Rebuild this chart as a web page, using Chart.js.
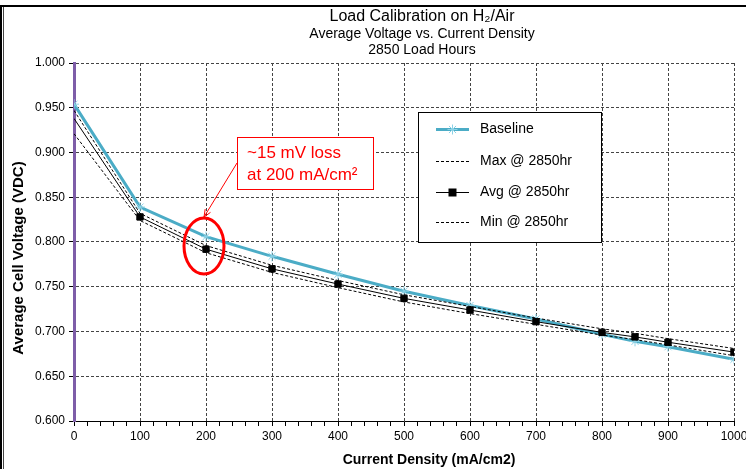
<!DOCTYPE html>
<html><head><meta charset="utf-8">
<script src="https://cdn.jsdelivr.net/npm/chart.js@4/dist/chart.umd.min.js"></script>
<style>html,body{margin:0;padding:0;background:#fff;}#wrap{position:relative;width:746px;height:469px;}</style>
</head><body><div id="wrap"><canvas id="c" width="746" height="469"></canvas></div>
<script>
const currentDensity = [0, 100, 200, 300, 400, 500, 600, 700, 800, 850, 900, 1000];
const baseline = [0.954, 0.839, 0.806, 0.784, 0.764, 0.745, 0.729, 0.714, 0.697, 0.689, 0.683, 0.669];
const max2850  = [0.947, 0.832, 0.796, 0.774, 0.757, 0.741, 0.728, 0.715, 0.703, 0.698, 0.692, 0.681];
const avg2850  = [0.938, 0.828, 0.792, 0.770, 0.753, 0.737, 0.724, 0.711, 0.699, 0.694, 0.688, 0.677];
const min2850  = [0.921, 0.824, 0.788, 0.766, 0.749, 0.733, 0.720, 0.708, 0.696, 0.691, 0.685, 0.673];
const seriesNames = ['Baseline', 'Max @ 2850hr', 'Avg @ 2850hr', 'Min @ 2850hr'];
const titleLines = ['Load Calibration on H\u2082/Air', 'Average Voltage vs. Current Density', '2850 Load Hours'];
const xTitle = 'Current Density (mA/cm2)';
const yTitle = 'Average Cell Voltage (VDC)';
const noteLines = ['~15 mV loss', 'at 200 mA/cm\u00B2'];
const noteAt = {x: 200, y: 0.7955};

const FONT = "'Liberation Sans', Arial, sans-serif";
const pts = arr => currentDensity.map((x, i) => ({x, y: arr[i]}));

const deco = {
  id: 'deco',
  afterDatasetsDraw(chart) {
    const ctx = chart.ctx, xs = chart.scales.x, ys = chart.scales.y;
    ctx.save();
    // ellipse
    const cx = xs.getPixelForValue(noteAt.x), cy = ys.getPixelForValue(noteAt.y);
    ctx.strokeStyle = '#FF0000'; ctx.lineWidth = 3;
    ctx.beginPath(); ctx.ellipse(cx - 2, cy, 20, 28, 0, 0, Math.PI * 2); ctx.stroke();
    // arrow
    ctx.lineWidth = 1;
    const ax0 = 237, ay0 = 163, ax1 = cx - 2, ay1 = cy - 29;
    ctx.beginPath(); ctx.moveTo(ax0, ay0); ctx.lineTo(ax1, ay1); ctx.stroke();
    const ang = Math.atan2(ay1 - ay0, ax1 - ax0);
    ctx.beginPath();
    ctx.moveTo(ax1 - 8 * Math.cos(ang - 0.4), ay1 - 8 * Math.sin(ang - 0.4));
    ctx.lineTo(ax1, ay1);
    ctx.lineTo(ax1 - 8 * Math.cos(ang + 0.4), ay1 - 8 * Math.sin(ang + 0.4));
    ctx.stroke();
    // note box
    ctx.fillStyle = '#fff'; ctx.fillRect(237, 137, 136, 52);
    ctx.strokeStyle = '#FF0000'; ctx.lineWidth = 1; ctx.strokeRect(237.5, 137.5, 136, 52);
    ctx.fillStyle = '#FF0000'; ctx.font = '17px ' + FONT; ctx.textBaseline = 'middle'; ctx.textAlign = 'left';
    ctx.fillText(noteLines[0], 247, 153);
    ctx.fillText(noteLines[1], 247, 175);
    // legend
    const lx = 418, ly = 112, lw = 183, lh = 130;
    ctx.fillStyle = '#fff'; ctx.fillRect(lx, ly, lw, lh);
    ctx.strokeStyle = '#000'; ctx.lineWidth = 1; ctx.strokeRect(lx + 0.5, ly + 0.5, lw, lh);
    const rows = [129, 161, 192, 222];
    chart.data.datasets.forEach((ds, i) => {
      const y = rows[i] + 0.5;
      ctx.save();
      ctx.strokeStyle = ds.borderColor; ctx.lineWidth = ds.borderWidth;
      ctx.setLineDash(ds.borderDash || []);
      ctx.beginPath(); ctx.moveTo(436, y); ctx.lineTo(469, y); ctx.stroke();
      ctx.restore();
      if (ds.legendMarker) {
        ctx.save();
        ctx.fillStyle = ds.pointBackgroundColor; ctx.strokeStyle = ds.pointBorderColor; ctx.lineWidth = 1;
        ctx.beginPath();
        if (ds.pointStyle === 'rect') { ctx.fillRect(452.5 - 4, y - 4, 8, 8); }
        else {
          const r = 5;
          for (let k = 0; k < 4; k++) { const a = k * Math.PI / 4; ctx.moveTo(452.5 - r * Math.cos(a), y - r * Math.sin(a)); ctx.lineTo(452.5 + r * Math.cos(a), y + r * Math.sin(a)); }
          ctx.stroke();
        }
        ctx.restore();
      }
      ctx.fillStyle = '#000'; ctx.font = '14px ' + FONT; ctx.textAlign = 'left'; ctx.textBaseline = 'middle';
      ctx.fillText(seriesNames[i], 480, y);
    });
    ctx.restore();
  },
  afterDraw(chart) {
    const ctx = chart.ctx;
    ctx.save();
    ctx.fillStyle = '#000';
    ctx.textAlign = 'center'; ctx.textBaseline = 'middle';
    ctx.font = '16px ' + FONT; ctx.fillText(titleLines[0], 422, 17);
    ctx.font = '14px ' + FONT; ctx.fillText(titleLines[1], 422, 34);
    ctx.fillText(titleLines[2], 422, 50);
    ctx.font = 'bold 14px ' + FONT; ctx.fillText(xTitle, 429, 460);
    ctx.save(); ctx.translate(19, 258); ctx.rotate(-Math.PI / 2);
    ctx.font = 'bold 15px ' + FONT; ctx.fillText(yTitle, 0, 0); ctx.restore();
    // outer frame
    ctx.fillStyle = '#000';
    ctx.fillRect(0, 5, 746, 2);
    ctx.fillRect(0, 5, 2, 464);
    ctx.fillStyle = '#444'; ctx.fillRect(3, 7, 1, 462);
    ctx.restore();
  }
};

new Chart(document.getElementById('c'), {
  type: 'line',
  data: {
    datasets: [
      {label: seriesNames[0], data: pts(baseline), borderColor: '#4BACC6', borderWidth: 3, pointStyle: 'star', pointRadius: 5, pointBorderColor: '#8CD2E6', pointBackgroundColor: '#8CD2E6', pointBorderWidth: 1, order: 3, legendMarker: true},
      {label: seriesNames[1], data: pts(max2850), borderColor: '#000', borderWidth: 1, borderDash: [3, 2], pointRadius: 0, order: 2},
      {label: seriesNames[2], data: pts(avg2850), borderColor: '#000', borderWidth: 1, pointStyle: 'rect', pointRadius: c => (c.dataIndex === 0 ? 0 : 4.5), pointBackgroundColor: '#000', pointBorderColor: '#000', pointBorderWidth: 1, order: 0, legendMarker: true},
      {label: seriesNames[3], data: pts(min2850), borderColor: '#000', borderWidth: 1, borderDash: [3, 2], pointRadius: 0, order: 1}
    ]
  },
  options: {
    responsive: false, animation: false, devicePixelRatio: 1,
    layout: {padding: {top: 63, right: 12, left: 0, bottom: 0}},
    elements: {line: {tension: 0}},
    plugins: {legend: {display: false}, title: {display: false}, tooltip: {enabled: false}},
    scales: {
      x: {
        type: 'linear', min: 0, max: 1000,
        ticks: {stepSize: 20, autoSkip: false, maxRotation: 0, color: '#000', font: {family: FONT, size: 12}, padding: 3,
          callback: v => (v % 100 === 0 ? String(v) : '')},
        grid: {color: c => (c.tick && c.tick.value % 100 === 0 ? '#444' : 'rgba(0,0,0,0)'), lineWidth: 1, tickColor: '#000', tickLength: 5},
        border: {color: '#000', width: 1, dash: [3, 2]},
        afterFit: s => { s.height = 48; s.paddingLeft = 0; s.paddingRight = 0; }
      },
      y: {
        min: 0.6, max: 1.0,
        ticks: {stepSize: 0.05, color: '#000', font: {family: FONT, size: 12}, padding: 4, callback: v => v.toFixed(3)},
        grid: {color: '#444', lineWidth: 1, tickColor: '#000', tickLength: 5},
        border: {color: '#7E5DA8', width: 3, dash: [3, 2]},
        afterFit: s => { s.width = 74; }
      }
    }
  },
  plugins: [deco]
});
</script></body></html>
